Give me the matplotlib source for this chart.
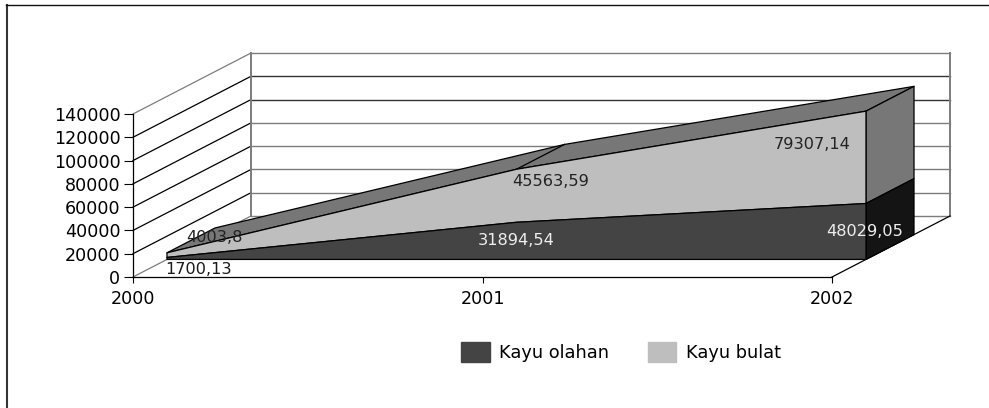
import matplotlib
matplotlib.use("Agg")
import matplotlib.pyplot as plt
import numpy as np
from matplotlib.lines import Line2D
from matplotlib.patches import Patch, Polygon

years = [2000, 2001, 2002]
kayu_olahan = [1700.13, 31894.54, 48029.05]
kayu_bulat = [4003.8, 45563.59, 79307.14]
olahan_labels = ["1700,13", "31894,54", "48029,05"]
bulat_labels = ["4003,8", "45563,59", "79307,14"]
y_ticks = [0, 20000, 40000, 60000, 80000, 100000, 120000, 140000]
series_names = ["Kayu olahan", "Kayu bulat"]

DARK = "#444444"
LIGHT = "#bebebe"
TOP = "#777777"
SIDE_DARK = "#141414"
GRID = "#7c7c7c"

# how far the back wall is pushed, in data units of each axis
DX = 118 / 349.5
DY = 61 / 163 * 140000
FRONT = 0.288
BACK = 0.695


def proj(year, value, depth):
    return (year + depth * DX, value + depth * DY)


def face(ax, points, color, z, edge="black", lw=0.9):
    ax.add_patch(Polygon(points, closed=True, facecolor=color, edgecolor=edge,
                         linewidth=lw, zorder=z, clip_on=False, joinstyle="round"))


fig = plt.figure(figsize=(9.89, 4.08), dpi=100)
ax = fig.add_axes([133 / 989, 131 / 408, 699 / 989, 163 / 408])
ax.set_xlim(2000, 2002)
ax.set_ylim(0, 140000)
ax.patch.set_visible(False)
ax.spines["top"].set_visible(False)
ax.spines["right"].set_visible(False)
ax.spines["left"].set_linewidth(0.9)
ax.spines["bottom"].set_linewidth(0.9)

ax.set_xticks(years)
ax.set_yticks(y_ticks)
ax.tick_params(axis="y", length=6.5, width=0.8, pad=2.5, labelsize=12.6)
ax.tick_params(axis="x", length=4.5, width=0.8, pad=5, labelsize=12.6)

# walls and floor
x0, x1 = years[0], years[-1]
for i, v in enumerate(y_ticks):
    side = "black" if 0 < v < 140000 else GRID
    ax.plot(*zip(proj(x0, v, 0), proj(x0, v, 1)), color=side, lw=0.9, zorder=1, clip_on=False)
    back = "#333333" if v in (100000, 120000) else GRID
    ax.plot(*zip(proj(x0, v, 1), proj(x1, v, 1)), color=back, lw=1.0, zorder=1, clip_on=False)
ax.plot(*zip(proj(x0, 0, 1), proj(x0, 140000, 1)), color=GRID, lw=1.4, zorder=1, clip_on=False)
ax.plot(*zip(proj(x1, 0, 1), proj(x1, 140000, 1)), color=GRID, lw=1.4, zorder=1, clip_on=False)
ax.plot(*zip(proj(x1, 0, 0), proj(x1, 0, 1)), color="black", lw=0.9, zorder=1, clip_on=False)

# stacked 3d area
base = np.array(kayu_olahan)
stack = base + np.array(kayu_bulat)

top_pts = [proj(y, s, FRONT) for y, s in zip(years, stack)]
top_pts += [proj(y, s, BACK) for y, s in zip(years[::-1], stack[::-1])]
face(ax, top_pts, TOP, 3)
ax.plot(*zip(proj(years[1], stack[1], FRONT), proj(years[1], stack[1], BACK)),
        color="black", lw=0.9, zorder=3.5, clip_on=False)

face(ax, [proj(x1, base[-1], FRONT), proj(x1, stack[-1], FRONT),
          proj(x1, stack[-1], BACK), proj(x1, base[-1], BACK)], TOP, 4)
face(ax, [proj(x1, 0, FRONT), proj(x1, base[-1], FRONT),
          proj(x1, base[-1], BACK), proj(x1, 0, BACK)], SIDE_DARK, 4)

bulat_pts = [proj(y, s, FRONT) for y, s in zip(years, stack)]
bulat_pts += [proj(y, b, FRONT) for y, b in zip(years[::-1], base[::-1])]
face(ax, bulat_pts, LIGHT, 5)
olahan_pts = [proj(y, b, FRONT) for y, b in zip(years, base)]
olahan_pts += [proj(x1, 0, FRONT), proj(x0, 0, FRONT)]
face(ax, olahan_pts, DARK, 5)

# data labels, offsets in pixels from the front corner of each layer
olahan_off = [(32, -12), (0, -18), (-1, -28)]
bulat_off = [(47, 15), (34, -12), (-54, -33)]
olahan_cols = ["#1a1a1a", "#eeeeee", "#eeeeee"]
for y, b, t, o, c in zip(years, base, olahan_labels, olahan_off, olahan_cols):
    ax.annotate(t, proj(y, b, FRONT), xytext=o, textcoords="offset pixels", ha="center",
                va="center", fontsize=11.6, color=c, zorder=6, annotation_clip=False)
for y, s, t, o in zip(years, stack, bulat_labels, bulat_off):
    ax.annotate(t, proj(y, s, FRONT), xytext=o, textcoords="offset pixels", ha="center",
                va="center", fontsize=11.6, color="#222222", zorder=6, annotation_clip=False)

# outer frame, only left and top are visible in the crop
fig.add_artist(Line2D([6.5 / 989, 6.5 / 989], [0, 1 - 5 / 408], color="#333333", lw=1.5))
fig.add_artist(Line2D([6 / 989, 1], [1 - 5 / 408, 1 - 5 / 408], color="#111111", lw=1.0))

handles = [Patch(facecolor=DARK, edgecolor=DARK), Patch(facecolor=LIGHT, edgecolor=LIGHT)]
fig.legend(handles, series_names, ncol=2, frameon=False, fontsize=12.8,
           loc="center", bbox_to_anchor=(621 / 989, 1 - 352 / 408),
           handlelength=1.62, handleheight=1.4, handletextpad=0.55, columnspacing=2.15)

fig.savefig("out.png", dpi=100)
